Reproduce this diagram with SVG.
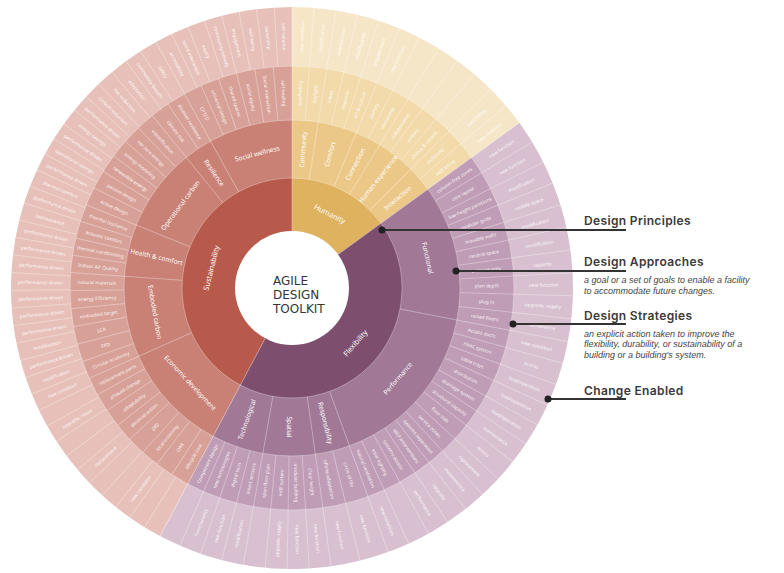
<svg xmlns="http://www.w3.org/2000/svg" xmlns:xlink="http://www.w3.org/1999/xlink" width="784" height="573" viewBox="0 0 784 573">
<style>
.sep{stroke:#fff;stroke-opacity:.45;stroke-width:.7}
.ring{fill:none;stroke:#fff;stroke-opacity:.4;stroke-width:.8}
text{font-family:"Noto Sans","Open Sans",sans-serif;fill:#fff;text-anchor:middle;dominant-baseline:central}
.t1{font-size:7.4px}
.t2{font-size:6.6px}
.t3{font-size:4.8px;fill-opacity:.92}
.ctr{font-family:"DejaVu Sans",sans-serif;font-size:12px;fill:#353535;text-anchor:start;dominant-baseline:auto}
.lh{font-family:Inter,"Noto Sans",sans-serif;font-weight:600;font-size:12px;letter-spacing:.35px;fill:#3a3a3a;text-anchor:start;dominant-baseline:auto}
.ls{font-family:"Liberation Sans",Arial,sans-serif;font-style:italic;font-size:9px;fill:#444;text-anchor:start;dominant-baseline:auto}
.lead{stroke:#333;stroke-width:1.8;fill:none}
.dot{fill:#222}
</style>
<defs>
<line id="sA" x1="292" y1="231" x2="292" y2="7" class="sep"/>
<line id="s2" x1="292" y1="178" x2="292" y2="66" class="sep"/>
<line id="s24" x1="292" y1="178" x2="292" y2="7" class="sep"/>
<line id="s34" x1="292" y1="120" x2="292" y2="7" class="sep"/>
<line id="s3" x1="292" y1="120" x2="292" y2="66" class="sep"/>
<line id="s4" x1="292" y1="66" x2="292" y2="7" class="sep"/>
</defs>
<rect width="784" height="573" fill="#fff"/>

<g id="sustainability">
<path d="M292,288 L160.08,536.11 A281,281 0 0 1 292,7 Z" fill="#e7c1b9"/>
<path d="M292,288 L187.78,484.01 A222,222 0 0 1 292,66 Z" fill="#d8a198"/>
<path d="M292,288 L213.13,436.34 A168,168 0 0 1 292,120 Z" fill="#c98175"/>
<path d="M292,288 L240.36,385.12 A110,110 0 0 1 292,178 Z" fill="#b75a4b"/>
</g>
<g id="humanity">
<path d="M292,288 L292,7 A281,281 0 0 1 519.33,122.83 Z" fill="#f6e6c8"/>
<path d="M292,288 L292,66 A222,222 0 0 1 471.60,157.51 Z" fill="#f2daab"/>
<path d="M292,288 L292,120 A168,168 0 0 1 427.92,189.25 Z" fill="#ebc888"/>
<path d="M292,288 L292,178 A110,110 0 0 1 380.99,223.34 Z" fill="#deb25f"/>
</g>
<g id="flexibility">
<path d="M292,288 L519.33,122.83 A281,281 0 0 1 160.08,536.11 Z" fill="#d8c0d1"/>
<path d="M292,288 L471.60,157.51 A222,222 0 0 1 187.78,484.01 Z" fill="#bf9db6"/>
<path d="M292,288 L427.92,189.25 A168,168 0 0 1 213.13,436.34 Z" fill="#a17997"/>
<path d="M292,288 L380.99,223.34 A110,110 0 0 1 240.36,385.12 Z" fill="#7d4e6e"/>
</g>

<g id="dividers">
<circle cx="292" cy="288" r="110" class="ring"/>
<circle cx="292" cy="288" r="168" class="ring"/>
<circle cx="292" cy="288" r="222" class="ring"/>
<use href="#sA"/><use href="#sA" transform="rotate(54 292 288)"/><use href="#sA" transform="rotate(208 292 288)"/>
<use href="#s2" transform="rotate(246 292 288)"/><use href="#s2" transform="rotate(274 292 288)"/><use href="#s2" transform="rotate(292 292 288)"/><use href="#s2" transform="rotate(321 292 288)"/><use href="#s2" transform="rotate(331 292 288)"/>
<use href="#s3" transform="rotate(212.75 292 288)"/><use href="#s3" transform="rotate(217.5 292 288)"/><use href="#s3" transform="rotate(222.25 292 288)"/><use href="#s3" transform="rotate(227 292 288)"/><use href="#s3" transform="rotate(231.75 292 288)"/><use href="#s3" transform="rotate(236.5 292 288)"/><use href="#s3" transform="rotate(241.25 292 288)"/><use href="#s3" transform="rotate(250.67 292 288)"/><use href="#s3" transform="rotate(255.33 292 288)"/><use href="#s3" transform="rotate(260 292 288)"/><use href="#s3" transform="rotate(264.67 292 288)"/><use href="#s3" transform="rotate(269.33 292 288)"/><use href="#s3" transform="rotate(278.5 292 288)"/><use href="#s3" transform="rotate(283 292 288)"/><use href="#s3" transform="rotate(287.5 292 288)"/><use href="#s3" transform="rotate(296.83 292 288)"/><use href="#s3" transform="rotate(301.67 292 288)"/><use href="#s3" transform="rotate(306.5 292 288)"/><use href="#s3" transform="rotate(311.33 292 288)"/><use href="#s3" transform="rotate(316.17 292 288)"/><use href="#s3" transform="rotate(326 292 288)"/><use href="#s3" transform="rotate(335.83 292 288)"/><use href="#s3" transform="rotate(340.67 292 288)"/><use href="#s3" transform="rotate(345.5 292 288)"/><use href="#s3" transform="rotate(350.33 292 288)"/><use href="#s3" transform="rotate(355.17 292 288)"/>
<use href="#s4" transform="rotate(211.62 292 288)"/><use href="#s4" transform="rotate(215.24 292 288)"/><use href="#s4" transform="rotate(218.86 292 288)"/><use href="#s4" transform="rotate(222.48 292 288)"/><use href="#s4" transform="rotate(226.1 292 288)"/><use href="#s4" transform="rotate(229.71 292 288)"/><use href="#s4" transform="rotate(233.33 292 288)"/><use href="#s4" transform="rotate(236.95 292 288)"/><use href="#s4" transform="rotate(240.57 292 288)"/><use href="#s4" transform="rotate(244.19 292 288)"/><use href="#s4" transform="rotate(247.81 292 288)"/><use href="#s4" transform="rotate(251.43 292 288)"/><use href="#s4" transform="rotate(255.05 292 288)"/><use href="#s4" transform="rotate(258.67 292 288)"/><use href="#s4" transform="rotate(262.29 292 288)"/><use href="#s4" transform="rotate(265.9 292 288)"/><use href="#s4" transform="rotate(269.52 292 288)"/><use href="#s4" transform="rotate(273.14 292 288)"/><use href="#s4" transform="rotate(276.76 292 288)"/><use href="#s4" transform="rotate(280.38 292 288)"/><use href="#s4" transform="rotate(284 292 288)"/><use href="#s4" transform="rotate(287.62 292 288)"/><use href="#s4" transform="rotate(291.24 292 288)"/><use href="#s4" transform="rotate(294.86 292 288)"/><use href="#s4" transform="rotate(298.48 292 288)"/><use href="#s4" transform="rotate(302.1 292 288)"/><use href="#s4" transform="rotate(305.71 292 288)"/><use href="#s4" transform="rotate(309.33 292 288)"/><use href="#s4" transform="rotate(312.95 292 288)"/><use href="#s4" transform="rotate(316.57 292 288)"/><use href="#s4" transform="rotate(320.19 292 288)"/><use href="#s4" transform="rotate(323.81 292 288)"/><use href="#s4" transform="rotate(327.43 292 288)"/><use href="#s4" transform="rotate(331.05 292 288)"/><use href="#s4" transform="rotate(334.67 292 288)"/><use href="#s4" transform="rotate(338.29 292 288)"/><use href="#s4" transform="rotate(341.9 292 288)"/><use href="#s4" transform="rotate(345.52 292 288)"/><use href="#s4" transform="rotate(349.14 292 288)"/><use href="#s4" transform="rotate(352.76 292 288)"/><use href="#s4" transform="rotate(356.38 292 288)"/>
<use href="#s24" transform="rotate(9 292 288)"/><use href="#s24" transform="rotate(22.5 292 288)"/><use href="#s24" transform="rotate(31.5 292 288)"/><use href="#s24" transform="rotate(45 292 288)"/>
<use href="#s34" transform="rotate(4.5 292 288)"/><use href="#s34" transform="rotate(13.5 292 288)"/><use href="#s34" transform="rotate(18 292 288)"/><use href="#s34" transform="rotate(27 292 288)"/><use href="#s34" transform="rotate(36 292 288)"/><use href="#s34" transform="rotate(40.5 292 288)"/><use href="#s34" transform="rotate(49.5 292 288)"/>
<use href="#s24" transform="rotate(101 292 288)"/><use href="#s24" transform="rotate(160 292 288)"/><use href="#s24" transform="rotate(172 292 288)"/><use href="#s24" transform="rotate(190 292 288)"/>
<use href="#s34" transform="rotate(58.7 292 288)"/><use href="#s34" transform="rotate(63.4 292 288)"/><use href="#s34" transform="rotate(68.1 292 288)"/><use href="#s34" transform="rotate(72.8 292 288)"/><use href="#s34" transform="rotate(77.5 292 288)"/><use href="#s34" transform="rotate(82.2 292 288)"/><use href="#s34" transform="rotate(86.9 292 288)"/><use href="#s34" transform="rotate(91.6 292 288)"/><use href="#s34" transform="rotate(96.3 292 288)"/><use href="#s34" transform="rotate(105.54 292 288)"/><use href="#s34" transform="rotate(110.08 292 288)"/><use href="#s34" transform="rotate(114.62 292 288)"/><use href="#s34" transform="rotate(119.15 292 288)"/><use href="#s34" transform="rotate(123.69 292 288)"/><use href="#s34" transform="rotate(128.23 292 288)"/><use href="#s34" transform="rotate(132.77 292 288)"/><use href="#s34" transform="rotate(137.31 292 288)"/><use href="#s34" transform="rotate(141.85 292 288)"/><use href="#s34" transform="rotate(146.38 292 288)"/><use href="#s34" transform="rotate(150.92 292 288)"/><use href="#s34" transform="rotate(155.46 292 288)"/><use href="#s34" transform="rotate(166 292 288)"/><use href="#s34" transform="rotate(176.5 292 288)"/><use href="#s34" transform="rotate(181 292 288)"/><use href="#s34" transform="rotate(185.5 292 288)"/><use href="#s34" transform="rotate(194.5 292 288)"/><use href="#s34" transform="rotate(199 292 288)"/><use href="#s34" transform="rotate(203.5 292 288)"/>
</g>

<g id="labels-principles">
<text class="t1" x="292" y="204.5" transform="rotate(284 292 288)">Sustainability</text>
<text class="t1" x="292" y="204.5" transform="rotate(27 292 288)">Humanity</text>
<text class="t1" x="292" y="371.5" transform="rotate(-49 292 288)">Flexibility</text>
</g>

<g id="labels-approaches">
<text class="t2" x="292" y="427" transform="rotate(47 292 288)">Economic development</text>
<text class="t2" x="292" y="427" transform="rotate(80 292 288)">Embodied carbon</text>
<text class="t2" x="153" y="288" transform="rotate(13 292 288)">Health &amp; comfort</text>
<text class="t2" x="292" y="149" transform="rotate(306.5 292 288)">Operational carbon</text>
<text class="t2" x="153" y="288" transform="rotate(56 292 288)">Resilience</text>
<text class="t2" x="292" y="149" transform="rotate(345.5 292 288)">Social wellness</text>
<text class="t2" x="431" y="288" transform="rotate(-85.5 292 288)">Community</text>
<text class="t2" x="431" y="288" transform="rotate(-74.25 292 288)">Comfort</text>
<text class="t2" x="431" y="288" transform="rotate(-63 292 288)">Connection</text>
<text class="t2" x="431" y="288" transform="rotate(-51.75 292 288)">Human experience</text>
<text class="t2" x="431" y="288" transform="rotate(-40.5 292 288)">Interaction</text>
<text class="t2" x="292" y="149" transform="rotate(77.5 292 288)">Functional</text>
<text class="t2" x="292" y="427" transform="rotate(-49.5 292 288)">Performance</text>
<text class="t2" x="431" y="288" transform="rotate(76 292 288)">Responsibility</text>
<text class="t2" x="431" y="288" transform="rotate(91 292 288)">Spatial</text>
<text class="t2" x="153" y="288" transform="rotate(289 292 288)">Technological</text>
</g>

<g id="labels-strategies">
<text class="t3" x="97" y="288" transform="rotate(300.38 292 288)">lifecycle cost</text>
<text class="t3" x="97" y="288" transform="rotate(305.13 292 288)">OAR</text>
<text class="t3" x="97" y="288" transform="rotate(309.88 292 288)">local economy</text>
<text class="t3" x="97" y="288" transform="rotate(314.63 292 288)">DfD</text>
<text class="t3" x="97" y="288" transform="rotate(319.38 292 288)">deconstruction</text>
<text class="t3" x="97" y="288" transform="rotate(324.13 292 288)">adaptability</text>
<text class="t3" x="97" y="288" transform="rotate(328.88 292 288)">phased change</text>
<text class="t3" x="97" y="288" transform="rotate(333.63 292 288)">replacement parts</text>
<text class="t3" x="97" y="288" transform="rotate(338.33 292 288)">Circular economy</text>
<text class="t3" x="97" y="288" transform="rotate(343 292 288)">EPD</text>
<text class="t3" x="97" y="288" transform="rotate(347.67 292 288)">LCA</text>
<text class="t3" x="97" y="288" transform="rotate(352.33 292 288)">embodied target</text>
<text class="t3" x="97" y="288" transform="rotate(357 292 288)">energy Efficiency</text>
<text class="t3" x="97" y="288" transform="rotate(361.67 292 288)">natural materials</text>
<text class="t3" x="97" y="288" transform="rotate(366.25 292 288)">Indoor Air Quality</text>
<text class="t3" x="97" y="288" transform="rotate(370.75 292 288)">thermal conditioning</text>
<text class="t3" x="97" y="288" transform="rotate(375.25 292 288)">acoustic comfort</text>
<text class="t3" x="97" y="288" transform="rotate(379.75 292 288)">thermal resilience</text>
<text class="t3" x="97" y="288" transform="rotate(384.42 292 288)">Active design</text>
<text class="t3" x="97" y="288" transform="rotate(389.25 292 288)">passive design</text>
<text class="t3" x="97" y="288" transform="rotate(394.08 292 288)">renewable energy</text>
<text class="t3" x="97" y="288" transform="rotate(398.92 292 288)">energy modeling</text>
<text class="t3" x="97" y="288" transform="rotate(403.75 292 288)">net zero energy</text>
<text class="t3" x="97" y="288" transform="rotate(408.58 292 288)">electrification</text>
<text class="t3" x="97" y="288" transform="rotate(413.5 292 288)">climate risk</text>
<text class="t3" x="97" y="288" transform="rotate(418.5 292 288)">disaster resilience</text>
<text class="t3" x="97" y="288" transform="rotate(423.42 292 288)">CPTED</text>
<text class="t3" x="97" y="288" transform="rotate(428.25 292 288)">universal design</text>
<text class="t3" x="97" y="288" transform="rotate(433.08 292 288)">shared spaces</text>
<text class="t3" x="97" y="288" transform="rotate(437.92 292 288)">social equity</text>
<text class="t3" x="97" y="288" transform="rotate(442.75 292 288)">Social interaction</text>
<text class="t3" x="97" y="288" transform="rotate(447.58 292 288)">self-healing</text>
<text class="t3" x="487" y="288" transform="rotate(-87.75 292 288)">wayfinding</text>
<text class="t3" x="487" y="288" transform="rotate(-83.25 292 288)">daylight</text>
<text class="t3" x="487" y="288" transform="rotate(-78.75 292 288)">views</text>
<text class="t3" x="487" y="288" transform="rotate(-74.25 292 288)">biophilia</text>
<text class="t3" x="487" y="288" transform="rotate(-69.75 292 288)">art &amp; culture</text>
<text class="t3" x="487" y="288" transform="rotate(-65.25 292 288)">identity</text>
<text class="t3" x="487" y="288" transform="rotate(-60.75 292 288)">ownership</text>
<text class="t3" x="487" y="288" transform="rotate(-56.25 292 288)">collaboration</text>
<text class="t3" x="487" y="288" transform="rotate(-51.75 292 288)">privacy</text>
<text class="t3" x="487" y="288" transform="rotate(-47.25 292 288)">choice &amp; control</text>
<text class="t3" x="487" y="288" transform="rotate(-42.75 292 288)">inclusivity</text>
<text class="t3" x="487" y="288" transform="rotate(-38.25 292 288)">well-being</text>
<text class="t3" x="487" y="288" transform="rotate(-33.65 292 288)">column-free zones</text>
<text class="t3" x="487" y="288" transform="rotate(-28.95 292 288)">core layout</text>
<text class="t3" x="487" y="288" transform="rotate(-24.25 292 288)">low-height partitions</text>
<text class="t3" x="487" y="288" transform="rotate(-19.55 292 288)">modular grids</text>
<text class="t3" x="487" y="288" transform="rotate(-14.85 292 288)">movable walls</text>
<text class="t3" x="487" y="288" transform="rotate(-10.15 292 288)">neutral space</text>
<text class="t3" x="487" y="288" transform="rotate(-5.45 292 288)">over capacity</text>
<text class="t3" x="487" y="288" transform="rotate(-0.75 292 288)">plan depth</text>
<text class="t3" x="487" y="288" transform="rotate(3.95 292 288)">plug in</text>
<text class="t3" x="487" y="288" transform="rotate(8.65 292 288)">raised floors</text>
<text class="t3" x="487" y="288" transform="rotate(13.27 292 288)">Access ducts</text>
<text class="t3" x="487" y="288" transform="rotate(17.81 292 288)">HVAC system</text>
<text class="t3" x="487" y="288" transform="rotate(22.35 292 288)">cable trays</text>
<text class="t3" x="487" y="288" transform="rotate(26.88 292 288)">distribution</text>
<text class="t3" x="487" y="288" transform="rotate(31.42 292 288)">drainage system</text>
<text class="t3" x="487" y="288" transform="rotate(35.96 292 288)">structural capacity</text>
<text class="t3" x="487" y="288" transform="rotate(40.5 292 288)">floor slab</text>
<text class="t3" x="487" y="288" transform="rotate(45.04 292 288)">service zones</text>
<text class="t3" x="487" y="288" transform="rotate(49.58 292 288)">systems separation</text>
<text class="t3" x="487" y="288" transform="rotate(54.12 292 288)">MEP interventions</text>
<text class="t3" x="487" y="288" transform="rotate(58.65 292 288)">systems access</text>
<text class="t3" x="487" y="288" transform="rotate(63.19 292 288)">solar lighting</text>
<text class="t3" x="487" y="288" transform="rotate(67.73 292 288)">natural ventilation</text>
<text class="t3" x="487" y="288" transform="rotate(73 292 288)">circle of life</text>
<text class="t3" x="487" y="288" transform="rotate(79 292 288)">offsite adaptation</text>
<text class="t3" x="487" y="288" transform="rotate(84.25 292 288)">Clear height</text>
<text class="t3" x="487" y="288" transform="rotate(88.75 292 288)">modular building</text>
<text class="t3" x="97" y="288" transform="rotate(273.25 292 288)">infill system</text>
<text class="t3" x="97" y="288" transform="rotate(277.75 292 288)">open floor plan</text>
<text class="t3" x="97" y="288" transform="rotate(282.25 292 288)">smart sensors</text>
<text class="t3" x="97" y="288" transform="rotate(286.75 292 288)">digital twin</text>
<text class="t3" x="97" y="288" transform="rotate(291.25 292 288)">new technologies</text>
<text class="t3" x="97" y="288" transform="rotate(295.75 292 288)">Component design</text>
</g>

<g id="labels-changes">
<text class="t3" x="40.5" y="288" transform="rotate(307.05 292 288)">new condition</text>
<text class="t3" x="40.5" y="288" transform="rotate(317.9 292 288)">replacement</text>
<text class="t3" x="40.5" y="288" transform="rotate(328.76 292 288)">upgrade, reuse</text>
<text class="t3" x="40.5" y="288" transform="rotate(336 292 288)">new condition</text>
<text class="t3" x="40.5" y="288" transform="rotate(339.62 292 288)">modification</text>
<text class="t3" x="40.5" y="288" transform="rotate(343.24 292 288)">performance driven</text>
<text class="t3" x="40.5" y="288" transform="rotate(346.86 292 288)">modification</text>
<text class="t3" x="40.5" y="288" transform="rotate(350.48 292 288)">performance driven</text>
<text class="t3" x="40.5" y="288" transform="rotate(354.1 292 288)">performance driven</text>
<text class="t3" x="40.5" y="288" transform="rotate(357.71 292 288)">performance driven</text>
<text class="t3" x="40.5" y="288" transform="rotate(361.33 292 288)">performance driven</text>
<text class="t3" x="40.5" y="288" transform="rotate(364.95 292 288)">performance driven</text>
<text class="t3" x="40.5" y="288" transform="rotate(368.57 292 288)">performance driven</text>
<text class="t3" x="40.5" y="288" transform="rotate(372.19 292 288)">performance driven</text>
<text class="t3" x="40.5" y="288" transform="rotate(375.81 292 288)">maintenance</text>
<text class="t3" x="40.5" y="288" transform="rotate(379.43 292 288)">performance driven</text>
<text class="t3" x="40.5" y="288" transform="rotate(383.05 292 288)">thermal comfort</text>
<text class="t3" x="40.5" y="288" transform="rotate(386.67 292 288)">performance driven</text>
<text class="t3" x="40.5" y="288" transform="rotate(390.29 292 288)">operational savings</text>
<text class="t3" x="40.5" y="288" transform="rotate(393.9 292 288)">performance driven</text>
<text class="t3" x="40.5" y="288" transform="rotate(397.52 292 288)">energy savings</text>
<text class="t3" x="40.5" y="288" transform="rotate(401.14 292 288)">performance driven</text>
<text class="t3" x="40.5" y="288" transform="rotate(404.76 292 288)">carbon reduction</text>
<text class="t3" x="40.5" y="288" transform="rotate(408.38 292 288)">risk reduction</text>
<text class="t3" x="40.5" y="288" transform="rotate(412 292 288)">adaptation</text>
<text class="t3" x="40.5" y="288" transform="rotate(415.62 292 288)">community benefit</text>
<text class="t3" x="40.5" y="288" transform="rotate(419.24 292 288)">safety</text>
<text class="t3" x="40.5" y="288" transform="rotate(422.86 292 288)">accessibility</text>
<text class="t3" x="40.5" y="288" transform="rotate(426.48 292 288)">social interaction</text>
<text class="t3" x="40.5" y="288" transform="rotate(430.1 292 288)">equity</text>
<text class="t3" x="40.5" y="288" transform="rotate(433.71 292 288)">community benefit</text>
<text class="t3" x="40.5" y="288" transform="rotate(437.33 292 288)">engagement</text>
<text class="t3" x="40.5" y="288" transform="rotate(440.95 292 288)">well-being</text>
<text class="t3" x="40.5" y="288" transform="rotate(444.57 292 288)">ownership</text>
<text class="t3" x="40.5" y="288" transform="rotate(448.19 292 288)">self-reliance</text>
<text class="t3" x="543.5" y="288" transform="rotate(-87.75 292 288)">new condition</text>
<text class="t3" x="543.5" y="288" transform="rotate(-83.25 292 288)">modification</text>
<text class="t3" x="543.5" y="288" transform="rotate(-78.75 292 288)">new function</text>
<text class="t3" x="543.5" y="288" transform="rotate(-74.25 292 288)">modification</text>
<text class="t3" x="543.5" y="288" transform="rotate(-69.75 292 288)">engagement</text>
<text class="t3" x="543.5" y="288" transform="rotate(-65.25 292 288)">new function</text>
<text class="t3" x="543.5" y="288" transform="rotate(-42.75 292 288)">well-being</text>
<text class="t3" x="543.5" y="288" transform="rotate(-38.25 292 288)">new function</text>
<text class="t3" x="543.5" y="288" transform="rotate(-33.65 292 288)">new function</text>
<text class="t3" x="543.5" y="288" transform="rotate(-28.95 292 288)">new function</text>
<text class="t3" x="543.5" y="288" transform="rotate(-24.25 292 288)">modification</text>
<text class="t3" x="543.5" y="288" transform="rotate(-19.55 292 288)">middle space</text>
<text class="t3" x="543.5" y="288" transform="rotate(-14.85 292 288)">modification</text>
<text class="t3" x="543.5" y="288" transform="rotate(-10.15 292 288)">modification</text>
<text class="t3" x="543.5" y="288" transform="rotate(-5.45 292 288)">capacity</text>
<text class="t3" x="543.5" y="288" transform="rotate(-0.75 292 288)">new function</text>
<text class="t3" x="543.5" y="288" transform="rotate(3.95 292 288)">upgrade, supply</text>
<text class="t3" x="543.5" y="288" transform="rotate(8.65 292 288)">maintenance</text>
<text class="t3" x="543.5" y="288" transform="rotate(13.27 292 288)">new condition</text>
<text class="t3" x="543.5" y="288" transform="rotate(17.81 292 288)">access</text>
<text class="t3" x="543.5" y="288" transform="rotate(22.35 292 288)">load/operation</text>
<text class="t3" x="543.5" y="288" transform="rotate(26.88 292 288)">load/operation</text>
<text class="t3" x="543.5" y="288" transform="rotate(31.42 292 288)">load/operation</text>
<text class="t3" x="543.5" y="288" transform="rotate(35.96 292 288)">maintenance</text>
<text class="t3" x="543.5" y="288" transform="rotate(40.5 292 288)">access</text>
<text class="t3" x="543.5" y="288" transform="rotate(45.04 292 288)">replacement</text>
<text class="t3" x="543.5" y="288" transform="rotate(49.58 292 288)">maintenance</text>
<text class="t3" x="543.5" y="288" transform="rotate(54.12 292 288)">upgrade</text>
<text class="t3" x="543.5" y="288" transform="rotate(58.65 292 288)">performance</text>
<text class="t3" x="543.5" y="288" transform="rotate(67.73 292 288)">new condition</text>
<text class="t3" x="543.5" y="288" transform="rotate(73 292 288)">new function</text>
<text class="t3" x="543.5" y="288" transform="rotate(79 292 288)">new function</text>
<text class="t3" x="543.5" y="288" transform="rotate(84.25 292 288)">new function</text>
<text class="t3" x="543.5" y="288" transform="rotate(88.75 292 288)">new function</text>
<text class="t3" x="40.5" y="288" transform="rotate(273.25 292 288)">upgrade, supply</text>
<text class="t3" x="40.5" y="288" transform="rotate(282.25 292 288)">modification</text>
<text class="t3" x="40.5" y="288" transform="rotate(286.75 292 288)">new function</text>
<text class="t3" x="40.5" y="288" transform="rotate(291.25 292 288)">Functionality</text>
</g>

<g id="center">
<circle cx="292" cy="288" r="57" fill="#fff"/>
<text class="ctr" x="273" y="284.5">AGILE</text>
<text class="ctr" x="273" y="298.5">DESIGN</text>
<text class="ctr" x="273" y="312.5">TOOLKIT</text>
</g>

<g id="connectors">
<line class="lead" x1="382" y1="230" x2="626" y2="230"/>
<circle class="dot" cx="382" cy="230" r="3.5"/>
<line class="lead" x1="456" y1="271" x2="626" y2="271"/>
<circle class="dot" cx="456" cy="271" r="3.5"/>
<line class="lead" x1="513" y1="324" x2="626" y2="324"/>
<circle class="dot" cx="513" cy="324" r="3.5"/>
<line class="lead" x1="548" y1="399" x2="626" y2="399"/>
<circle class="dot" cx="548" cy="399" r="3.5"/>
</g>

<g id="legend-principles"><text class="lh" x="584" y="225">Design Principles</text></g>
<g id="legend-approaches">
<text class="lh" x="584" y="266">Design Approaches</text>
<text class="ls" x="584" y="282.5">a goal or a set of goals to enable a facility</text>
<text class="ls" x="584" y="293.5">to accommodate future changes.</text>
</g>
<g id="legend-strategies">
<text class="lh" x="584" y="319.5">Design Strategies</text>
<text class="ls" x="584" y="336.5">an explicit action taken to improve the</text>
<text class="ls" x="584" y="347">flexibility, durability, or sustainability of a</text>
<text class="ls" x="584" y="357.5">building or a building's system.</text>
</g>
<g id="legend-changes"><text class="lh" x="584" y="395">Change Enabled</text></g>
</svg>
